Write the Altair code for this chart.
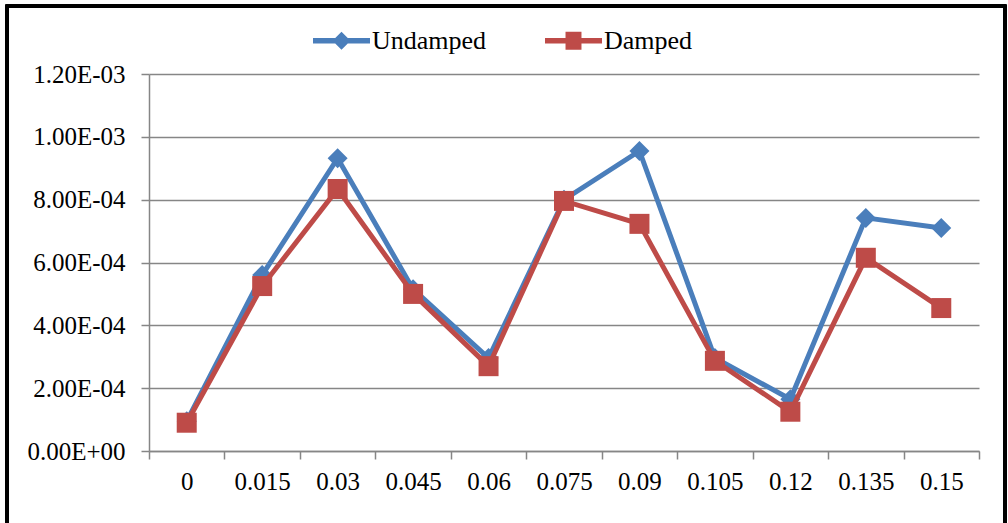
import altair as alt
import pandas as pd

x_labels = ["0", "0.015", "0.03", "0.045", "0.06", "0.075", "0.09", "0.105", "0.12", "0.135", "0.15"]
undamped = [0.95e-4, 5.6e-4, 9.32e-4, 5.15e-4, 2.96e-4, 8.0e-4, 9.55e-4, 2.96e-4, 1.65e-4, 7.42e-4, 7.1e-4]
damped = [0.9e-4, 5.25e-4, 8.34e-4, 5.0e-4, 2.7e-4, 7.96e-4, 7.23e-4, 2.87e-4, 1.25e-4, 6.15e-4, 4.55e-4]
series_names = ["Undamped", "Damped"]
series_colors = ["#4A7EBB", "#BE4B48"]
y_ticks = [0, 0.0002, 0.0004, 0.0006, 0.0008, 0.0010, 0.0012]
y_tick_labels = ["0.00E+00", "2.00E-04", "4.00E-04", "6.00E-04", "8.00E-04", "1.00E-03", "1.20E-03"]

df = pd.DataFrame({
    "x": x_labels * 2,
    "y": undamped + damped,
    "series": ["Undamped"] * len(x_labels) + ["Damped"] * len(x_labels),
})

FONT = "Liberation Serif"
GRAY = "#868686"

label_expr = "[" + ",".join("'" + s + "'" for s in y_tick_labels) + "][round(datum.value/0.0002)]"

x_enc = alt.X("x:N", sort=x_labels, title=None,
              scale=alt.Scale(type="band", paddingInner=0, paddingOuter=0),
              axis=alt.Axis(labelAngle=0, tickBand="extent", tickSize=8, labelPadding=10,
                            domainColor=GRAY, tickColor=GRAY, domainWidth=1.5, tickWidth=1.5,
                            labelFont=FONT, labelFontSize=25, labelColor="black", grid=False))
y_enc = alt.Y("y:Q", title=None,
              scale=alt.Scale(domain=[0, 0.0012], nice=False),
              axis=alt.Axis(values=y_ticks, labelExpr=label_expr, tickSize=8, labelPadding=16,
                            domainColor=GRAY, tickColor=GRAY, domainWidth=1.5, tickWidth=1.5,
                            gridColor=GRAY, gridWidth=1.5, grid=True,
                            labelFont=FONT, labelFontSize=25, labelColor="black"))

diamond_path = "M-1,-0.1 L-0.22,-0.1 L0,-0.32 L0.22,-0.1 L1,-0.1 L1,0.1 L0.22,0.1 L0,0.32 L-0.22,0.1 L-1,0.1 Z"
square_path = "M-1,-0.1 L-0.28,-0.1 L-0.28,-0.32 L0.28,-0.32 L0.28,-0.1 L1,-0.1 L1,0.1 L0.28,0.1 L0.28,0.32 L-0.28,0.32 L-0.28,0.1 L-1,0.1 Z"

color_scale = alt.Scale(domain=series_names, range=series_colors)
shape_scale = alt.Scale(domain=series_names, range=[diamond_path, square_path])

legend = alt.Legend(title=None, orient="none", direction="horizontal", columns=2,
                    legendX=164, legendY=-62, columnPadding=58,
                    symbolSize=3249, symbolStrokeWidth=0, symbolOpacity=1, labelOffset=2,
                    labelFont=FONT, labelFontSize=26, labelColor="black")

layers = []
shapes = {"Undamped": "diamond", "Damped": "square"}
for i, name in enumerate(series_names):
    base = alt.Chart(df).transform_filter(alt.datum.series == name)
    line = base.mark_line(strokeWidth=5).encode(
        x=x_enc, y=y_enc,
        color=alt.Color("series:N", scale=color_scale, legend=None))
    pts = base.mark_point(filled=True, opacity=1, size=400, shape=shapes[name]).encode(
        x=x_enc, y=y_enc,
        color=alt.Color("series:N", scale=color_scale, legend=None))
    layers += [line, pts]

legend_layer = alt.Chart(df).mark_point(filled=True, opacity=0, size=3249).encode(
    x=x_enc, y=y_enc,
    color=alt.Color("series:N", scale=color_scale, legend=legend),
    shape=alt.Shape("series:N", scale=shape_scale, legend=legend))

frame = alt.Chart(df).mark_rect(fill=None, stroke="black", strokeWidth=2.5).encode(
    x=alt.value(-142), x2=alt.value(856), y=alt.value(-68), y2=alt.value(480))

chart = alt.layer(legend_layer, *layers, frame).properties(
    width=830, height=377,
    autosize=alt.AutoSizeParams(type="none"),
    padding={"left": 149, "top": 74, "right": 29, "bottom": 72},
    background="white",
).configure_view(strokeWidth=0)

chart.save("out.html", embed_options={"renderer": "svg", "actions": False})
